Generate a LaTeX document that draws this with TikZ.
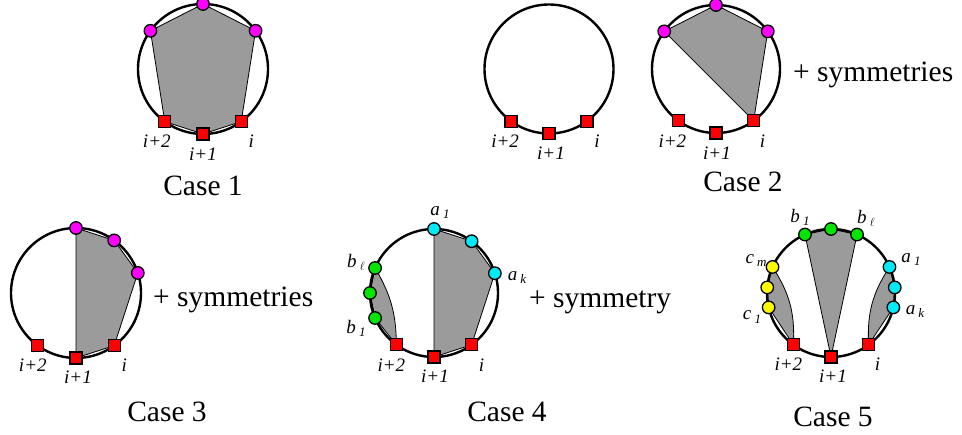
\documentclass[tikz,border=0pt]{standalone}
\usepackage{fontspec}
\setmainfont{Liberation Serif}
\usetikzlibrary{calc}
\definecolor{ngreen}{RGB}{0,230,0}
\definecolor{ncyan}{RGB}{0,235,245}
\definecolor{nyellow}{RGB}{255,250,0}
\definecolor{nmag}{RGB}{255,0,255}
\definecolor{polygray}{RGB}{155,155,155}
\newcommand\mysub[2]{#1\,\raisebox{-0.35ex}{\fontsize{13}{13}\selectfont #2}}
\begin{document}
\begin{tikzpicture}[x=1pt,y=-1pt,
 ring/.style={draw=black,line width=2.4pt},
 poly/.style={fill=polygray,draw=black,line width=0.8pt,line join=round},
 sq/.style={rectangle,draw=black,fill=red,line width=1.3pt,minimum size=12pt,inner sep=0pt},
 dotnode/.style={circle,draw=black,line width=1.3pt,minimum size=12.5pt,inner sep=0pt},
 lbl/.style={font=\fontsize{19}{19}\selectfont\itshape,inner sep=0pt},
 caselbl/.style={font=\fontsize{29.5}{30}\selectfont,inner sep=0pt,anchor=base},
 symlbl/.style={font=\fontsize{29.5}{30}\selectfont,inner sep=0pt,anchor=base west}]
\useasboundingbox (0,0) rectangle (962,435);

% ---------------- Case 1
\begin{scope}[shift={(203,69)}]
 \coordinate (a1) at (144:65pt); \coordinate (a2) at (90:65pt); \coordinate (a3) at (36:65pt);
 \coordinate (ai) at (-54:65pt); \coordinate (aj) at (-90:65pt); \coordinate (ak) at (-126:65pt);
 \filldraw[poly] (a1)--(a2)--(a3)--(ai)--(aj)--(ak)--cycle;
 \draw[ring] (0,0) circle[radius=65pt];
\end{scope}
\node[dotnode,fill=nmag] (A1) at (a1) {}; \node[dotnode,fill=nmag] (A2) at (a2) {}; \node[dotnode,fill=nmag] (A3) at (a3) {};
\node[sq] (Ai) at (ai) {}; \node[sq] (Aj) at (aj) {}; \node[sq] (Ak) at (ak) {};
\node[lbl,xshift=-8pt,yshift=-20pt] (LAk) at (Ak) {i+2};
\node[lbl,yshift=-20pt] (LAj) at (Aj) {i+1};
\node[lbl,xshift=10pt,yshift=-20pt] (LAi) at (Ai) {i};
\node[caselbl] (C1) at (203,196) {Case 1};

% ---------------- Case 2 (empty)
\begin{scope}[shift={(549,69)}]
 \coordinate (bi) at (-54:64.5pt); \coordinate (bj) at (-90:64.5pt); \coordinate (bk) at (-126:64.5pt);
 \draw[ring] (0,0) circle[radius=64.5pt];
\end{scope}
\node[sq] (Bi) at (bi) {}; \node[sq] (Bj) at (bj) {}; \node[sq] (Bk) at (bk) {};
\node[lbl,xshift=-6pt,yshift=-20pt] (LBk) at (Bk) {i+2};
\node[lbl,xshift=2pt,yshift=-20pt] (LBj) at (Bj) {i+1};
\node[lbl,xshift=10pt,yshift=-20pt] (LBi) at (Bi) {i};

% ---------------- Case 2 (polygon)
\begin{scope}[shift={(716,69)}]
 \coordinate (c1) at (144:64pt); \coordinate (c2) at (90:64pt); \coordinate (c3) at (36:64pt);
 \coordinate (ci) at (-54:64pt); \coordinate (cj) at (-90:64pt); \coordinate (ck) at (-126:64pt);
 \filldraw[poly] (c1)--(c2)--(c3)--(ci)--cycle;
 \draw[ring] (0,0) circle[radius=64pt];
\end{scope}
\node[dotnode,fill=nmag] (C1p) at (c1) {}; \node[dotnode,fill=nmag] (C2p) at (c2) {}; \node[dotnode,fill=nmag] (C3p) at (c3) {};
\node[sq] (Ci) at (ci) {}; \node[sq] (Cj) at (cj) {}; \node[sq] (Ck) at (ck) {};
\node[lbl,xshift=-6pt,yshift=-20pt] (LCk) at (Ck) {i+2};
\node[lbl,xshift=1pt,yshift=-20pt] (LCj) at (Cj) {i+1};
\node[lbl,xshift=9pt,yshift=-20pt] (LCi) at (Ci) {i};
\node[symlbl] (S2) at (793,82) {+ symmetries};
\node[caselbl] (C2) at (743,192) {Case 2};

% ---------------- Case 3
\begin{scope}[shift={(76,293)}]
 \coordinate (d1) at (90:65pt); \coordinate (d2) at (54:65pt); \coordinate (d3) at (18:65pt);
 \coordinate (di) at (-54:65pt); \coordinate (dj) at (-90:65pt); \coordinate (dk) at (-126:65pt);
 \filldraw[poly] (d1)--(d2)--(d3)--(di)--(dj)--cycle;
 \draw[ring] (0,0) circle[radius=65pt];
\end{scope}
\node[dotnode,fill=nmag] (D1) at (d1) {}; \node[dotnode,fill=nmag] (D2) at (d2) {}; \node[dotnode,fill=nmag] (D3) at (d3) {};
\node[sq] (Di) at (di) {}; \node[sq] (Dj) at (dj) {}; \node[sq] (Dk) at (dk) {};
\node[lbl,xshift=-5pt,yshift=-20pt] (LDk) at (Dk) {i+2};
\node[lbl,xshift=2pt,yshift=-19pt] (LDj) at (Dj) {i+1};
\node[lbl,xshift=10pt,yshift=-20pt] (LDi) at (Di) {i};
\node[symlbl] (S3) at (153,307) {+ symmetries};
\node[caselbl] (C3) at (167,422) {Case 3};

% ---------------- Case 4
\begin{scope}[shift={(434,293)}]
 \coordinate (e1) at (90:64pt); \coordinate (e2) at (54:64pt); \coordinate (e3) at (18:64pt);
 \coordinate (f1) at (157:64pt); \coordinate (f2) at (180:64pt); \coordinate (f3) at (203:64pt);
 \coordinate (ei) at (-54:64pt); \coordinate (ej) at (-90:64pt); \coordinate (ek) at (-126:64pt);
 \filldraw[poly] (e1)--(e2)--(e3)--(ei)--(ej)--cycle;
 \filldraw[poly] (f1)--(f2)--(f3)--(ek) to[bend right=15] (f1);
 \draw[ring] (0,0) circle[radius=64pt];
\end{scope}
\node[dotnode,fill=ncyan] (E1) at (e1) {}; \node[dotnode,fill=ncyan] (E2) at (e2) {}; \node[dotnode,fill=ncyan] (E3) at (e3) {};
\node[dotnode,fill=ngreen] (F1) at (f1) {}; \node[dotnode,fill=ngreen] (F2) at (f2) {}; \node[dotnode,fill=ngreen] (F3) at (f3) {};
\node[sq] (Ei) at (ei) {}; \node[sq] (Ej) at (ej) {}; \node[sq] (Ek) at (ek) {};
\node[lbl,xshift=-5pt,yshift=-20pt] (LEk) at (Ek) {i+2};
\node[lbl,xshift=1pt,yshift=-19pt] (LEj) at (Ej) {i+1};
\node[lbl,xshift=10pt,yshift=-20pt] (LEi) at (Ei) {i};
\node[lbl] (LE1) at (440,213) {\mysub{a}{1}};
\node[lbl] (LE3) at (517,278) {\mysub{a}{k}};
\node[lbl] (LF1) at (356,262) {\mysub{b}{$\ell$}};
\node[lbl] (LF3) at (356,328) {\mysub{b}{1}};
\node[symlbl] (S4) at (529,308) {+ symmetry};
\node[caselbl] (C4) at (507,422) {Case 4};

% ---------------- Case 5
\begin{scope}[shift={(831,293)}]
 \coordinate (g1) at (114:64pt); \coordinate (g2) at (90:64pt); \coordinate (g3) at (66:64pt);
 \coordinate (h1) at (24:64pt); \coordinate (h2) at (5:64pt); \coordinate (h3) at (-13:64pt);
 \coordinate (y1) at (156:64pt); \coordinate (y2) at (175:64pt); \coordinate (y3) at (193:64pt);
 \coordinate (gi) at (-54:64pt); \coordinate (gj) at (-90:64pt); \coordinate (gk) at (-126:64pt);
 \filldraw[poly] (g1)--(g2)--(g3)--(gj)--cycle;
 \filldraw[poly] (h1)--(h2)--(h3)--(gi) to[bend left=18] (h1);
 \filldraw[poly] (y1)--(y2)--(y3)--(gk) to[bend right=18] (y1);
 \draw[ring] (0,0) circle[radius=64pt];
\end{scope}
\node[lbl] (LG1) at (800,217) {\mysub{b}{1}};
\node[lbl] (LG3) at (866,218) {\mysub{b}{$\ell$}};
\node[dotnode,fill=ngreen] (G1) at (g1) {}; \node[dotnode,fill=ngreen] (G2) at (g2) {}; \node[dotnode,fill=ngreen] (G3) at (g3) {};
\node[dotnode,fill=ncyan] (H1) at (h1) {}; \node[dotnode,fill=ncyan] (H2) at (h2) {}; \node[dotnode,fill=ncyan] (H3) at (h3) {};
\node[dotnode,fill=nyellow] (Y1) at (y1) {}; \node[dotnode,fill=nyellow] (Y2) at (y2) {}; \node[dotnode,fill=nyellow] (Y3) at (y3) {};
\node[sq] (Gi) at (gi) {}; \node[sq] (Gj) at (gj) {}; \node[sq] (Gk) at (gk) {};
\node[lbl,xshift=-5pt,yshift=-19pt] (LGk) at (Gk) {i+2};
\node[lbl,xshift=2pt,yshift=-19pt] (LGj) at (Gj) {i+1};
\node[lbl,xshift=9pt,yshift=-19pt] (LGi) at (Gi) {i};
\node[lbl] (LH1) at (911,260) {\mysub{a}{1}};
\node[lbl] (LH3) at (915,312) {\mysub{a}{k}};
\node[lbl] (LY1) at (756,261) {\mysub{c}{m}};
\node[lbl] (LY3) at (752,317) {\mysub{c}{1}};
\node[caselbl] (C5) at (833,427) {Case 5};
\end{tikzpicture}
\end{document}
